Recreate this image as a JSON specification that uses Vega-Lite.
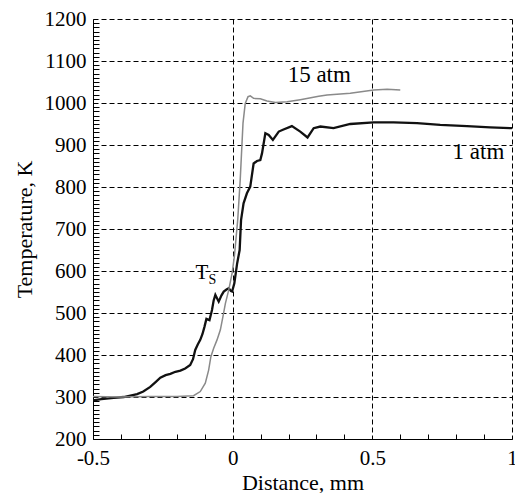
{
  "$schema": "https://vega.github.io/schema/vega-lite/v6.json",
  "width": 419,
  "height": 420,
  "autosize": "none",
  "padding": {"left": 93, "top": 19, "right": 3, "bottom": 54},
  "background": "white",
  "config": {
    "view": {"stroke": null},
    "font": "Liberation Serif",
    "axis": {
      "labelFont": "Liberation Serif",
      "titleFont": "Liberation Serif",
      "labelFontSize": 21,
      "titleFontSize": 22,
      "titleFontWeight": "normal",
      "labelColor": "black",
      "titleColor": "black",
      "domainColor": "black",
      "tickColor": "black",
      "gridColor": "black",
      "gridOpacity": 1,
      "gridDash": [5, 3],
      "gridWidth": 1
    }
  },
  "datasets": {
    "atm1": [
      {"x": -0.5, "t": 292}, {"x": -0.47, "t": 295}, {"x": -0.426, "t": 298}, {"x": -0.39, "t": 300},
      {"x": -0.342, "t": 307}, {"x": -0.32, "t": 313}, {"x": -0.295, "t": 324}, {"x": -0.275, "t": 336},
      {"x": -0.259, "t": 346}, {"x": -0.24, "t": 352}, {"x": -0.223, "t": 355}, {"x": -0.205, "t": 360},
      {"x": -0.187, "t": 363}, {"x": -0.17, "t": 368}, {"x": -0.152, "t": 376}, {"x": -0.142, "t": 390},
      {"x": -0.134, "t": 412}, {"x": -0.125, "t": 425}, {"x": -0.116, "t": 436}, {"x": -0.108, "t": 450},
      {"x": -0.101, "t": 467}, {"x": -0.094, "t": 486}, {"x": -0.083, "t": 483}, {"x": -0.074, "t": 507},
      {"x": -0.068, "t": 530}, {"x": -0.062, "t": 543}, {"x": -0.056, "t": 535}, {"x": -0.05, "t": 527},
      {"x": -0.04, "t": 542}, {"x": -0.032, "t": 551}, {"x": -0.022, "t": 556}, {"x": -0.014, "t": 559},
      {"x": -0.006, "t": 552}, {"x": -0.002, "t": 551}, {"x": 0.006, "t": 571}, {"x": 0.016, "t": 618},
      {"x": 0.025, "t": 650}, {"x": 0.03, "t": 721}, {"x": 0.039, "t": 761}, {"x": 0.051, "t": 785},
      {"x": 0.063, "t": 801}, {"x": 0.075, "t": 856}, {"x": 0.087, "t": 862}, {"x": 0.099, "t": 864},
      {"x": 0.105, "t": 880}, {"x": 0.117, "t": 928}, {"x": 0.129, "t": 924}, {"x": 0.144, "t": 912},
      {"x": 0.165, "t": 932}, {"x": 0.182, "t": 937}, {"x": 0.212, "t": 945}, {"x": 0.242, "t": 932},
      {"x": 0.268, "t": 918}, {"x": 0.29, "t": 940}, {"x": 0.314, "t": 944}, {"x": 0.361, "t": 940},
      {"x": 0.421, "t": 950}, {"x": 0.505, "t": 954}, {"x": 0.576, "t": 954}, {"x": 0.66, "t": 952},
      {"x": 0.743, "t": 948}, {"x": 0.839, "t": 945}, {"x": 0.922, "t": 942}, {"x": 1.0, "t": 940}
    ],
    "atm15": [
      {"x": -0.5, "t": 301}, {"x": -0.4, "t": 300}, {"x": -0.3, "t": 301}, {"x": -0.2, "t": 301},
      {"x": -0.14, "t": 303}, {"x": -0.116, "t": 313}, {"x": -0.098, "t": 333}, {"x": -0.086, "t": 364},
      {"x": -0.078, "t": 396}, {"x": -0.068, "t": 416}, {"x": -0.056, "t": 436}, {"x": -0.044, "t": 460},
      {"x": -0.035, "t": 491}, {"x": -0.026, "t": 523}, {"x": -0.014, "t": 555}, {"x": -0.002, "t": 595},
      {"x": 0.006, "t": 634}, {"x": 0.018, "t": 721}, {"x": 0.027, "t": 817}, {"x": 0.037, "t": 952},
      {"x": 0.045, "t": 999}, {"x": 0.055, "t": 1015}, {"x": 0.063, "t": 1017}, {"x": 0.075, "t": 1011},
      {"x": 0.099, "t": 1010}, {"x": 0.123, "t": 1005}, {"x": 0.153, "t": 1001}, {"x": 0.195, "t": 1003},
      {"x": 0.242, "t": 1008}, {"x": 0.308, "t": 1016}, {"x": 0.338, "t": 1019}, {"x": 0.421, "t": 1023},
      {"x": 0.505, "t": 1031}, {"x": 0.553, "t": 1033}, {"x": 0.6, "t": 1031}
    ],
    "labels": [
      {"x": 0.31, "t": 1067, "text": "15 atm", "size": 23},
      {"x": 0.88, "t": 883, "text": "1 atm", "size": 23},
      {"x": -0.11, "t": 596, "text": "T", "size": 21},
      {"x": -0.073, "t": 578, "text": "S", "size": 14}
    ]
  },
  "resolve": {"axis": {"x": "independent", "y": "independent"}},
  "layer": [
    {
      "data": {"name": "atm1"},
      "mark": {"type": "line", "color": "#111111", "strokeWidth": 2.3, "clip": true},
      "encoding": {
        "x": {"field": "x", "type": "quantitative", "scale": {"domain": [-0.5, 1], "nice": false},
          "axis": {"orient": "bottom", "values": [-0.5, 0, 0.5, 1], "grid": true, "ticks": false, "labelFont": "Liberation Serif", "titleFont": "Liberation Serif", "labelPadding": 8, "title": "Distance, mm", "titlePadding": 4, "labelFlush": false, "labelExpr": "datum.value == -0.5 ? '-0.5' : format(datum.value, '~g')"}},
        "y": {"field": "t", "type": "quantitative", "scale": {"domain": [200, 1200], "nice": false, "zero": false},
          "axis": {"orient": "left", "values": [200, 300, 400, 500, 600, 700, 800, 900, 1000, 1100, 1200], "grid": true, "ticks": false, "labelFont": "Liberation Serif", "titleFont": "Liberation Serif", "labelPadding": 7, "title": "Temperature, K", "titlePadding": 8, "labelFlush": false, "format": "d"}}
      }
    },
    {
      "data": {"name": "atm15"},
      "mark": {"type": "line", "color": "#8a8a8a", "strokeWidth": 1.5, "clip": true},
      "encoding": {
        "x": {"field": "x", "type": "quantitative", "scale": {"domain": [-0.5, 1], "nice": false},
          "axis": {"orient": "bottom", "values": [-0.4, -0.3, -0.2, -0.1, 0.1, 0.2, 0.3, 0.4, 0.6, 0.7, 0.8, 0.9], "labels": false, "grid": false, "domain": false, "tickSize": -5, "title": null}},
        "y": {"field": "t", "type": "quantitative", "scale": {"domain": [200, 1200], "nice": false, "zero": false},
          "axis": {"orient": "left", "values": [210,220,230,240,250,260,270,280,290,310,320,330,340,350,360,370,380,390,410,420,430,440,450,460,470,480,490,510,520,530,540,550,560,570,580,590,610,620,630,640,650,660,670,680,690,710,720,730,740,750,760,770,780,790,810,820,830,840,850,860,870,880,890,910,920,930,940,950,960,970,980,990,1010,1020,1030,1040,1050,1060,1070,1080,1090,1110,1120,1130,1140,1150,1160,1170,1180,1190], "labels": false, "grid": false, "domain": false, "tickSize": -6, "title": null}}
      }
    },
    {
      "data": {"name": "labels"},
      "mark": {"type": "text", "font": "Liberation Serif", "color": "black", "align": "center", "baseline": "middle"},
      "encoding": {
        "x": {"field": "x", "type": "quantitative", "axis": null},
        "y": {"field": "t", "type": "quantitative", "axis": null},
        "text": {"field": "text"},
        "size": {"field": "size", "type": "quantitative", "scale": null}
      }
    }
  ]
}
